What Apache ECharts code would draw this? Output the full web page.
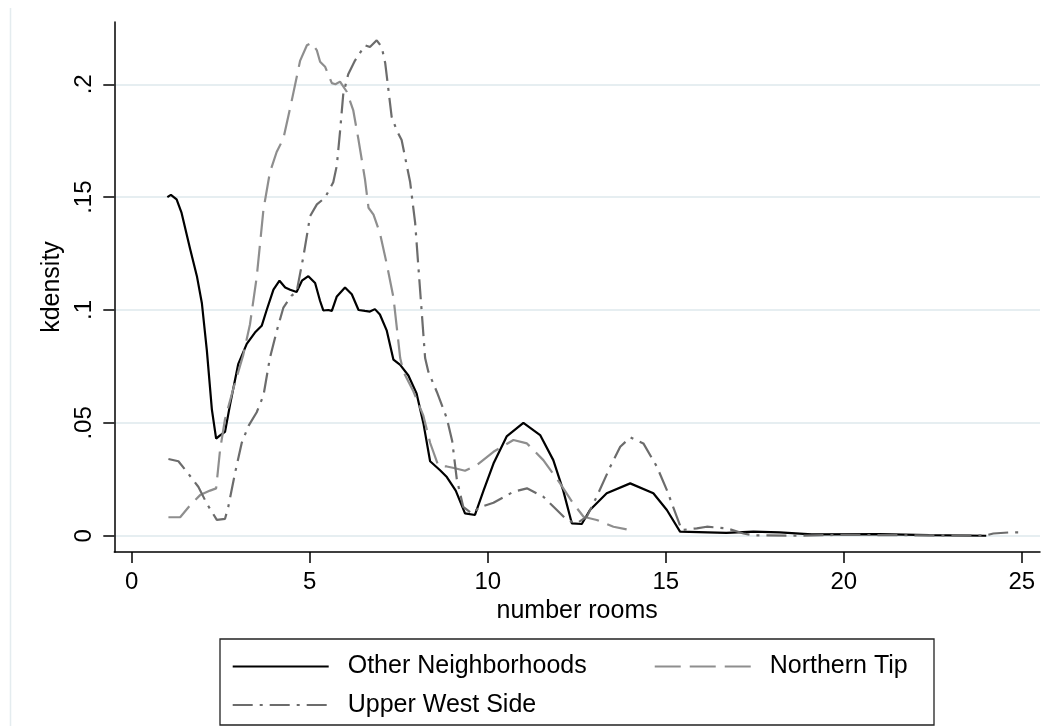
<!DOCTYPE html>
<html>
<head>
<meta charset="utf-8">
<script src="https://cdn.jsdelivr.net/npm/echarts@6/dist/echarts.min.js"></script>
<style>
html,body{margin:0;padding:0;background:#fff;}
#chart{width:1059px;height:726px;}
</style>
</head>
<body>
<div id="chart"></div>
<script>
// ---- data ----
const seriesNames = ['Other Neighborhoods', 'Northern Tip', 'Upper West Side'];
const xTicks = [0, 5, 10, 15, 20, 25];
const yTicks = [0, 0.05, 0.1, 0.15, 0.2];

const otherNeighborhoods = [
  [1.00,0.150],[1.10,0.151],[1.26,0.149],[1.40,0.143],[1.64,0.127],[1.83,0.115],[1.97,0.103],
  [2.11,0.082],[2.25,0.056],[2.37,0.043],[2.48,0.0445],[2.62,0.046],[2.76,0.058],[2.99,0.076],
  [3.23,0.085],[3.46,0.090],[3.65,0.093],[3.79,0.100],[3.98,0.109],[4.15,0.113],[4.31,0.110],
  [4.45,0.109],[4.63,0.108],[4.78,0.113],[4.96,0.115],[5.15,0.112],[5.29,0.104],[5.38,0.0998],
  [5.52,0.100],[5.62,0.0996],[5.76,0.106],[5.99,0.110],[6.18,0.107],[6.37,0.100],[6.55,0.0996],
  [6.69,0.0993],[6.83,0.1004],[6.97,0.098],[7.16,0.091],[7.35,0.078],[7.54,0.0757],[7.77,0.071],
  [8.00,0.063],[8.19,0.050],[8.38,0.033],[8.66,0.029],[8.85,0.026],[9.10,0.020],[9.36,0.0099],
  [9.64,0.0092],[9.88,0.020],[10.16,0.032],[10.53,0.044],[11.00,0.050],[11.47,0.0446],
  [11.84,0.0335],[12.12,0.020],[12.36,0.0055],[12.64,0.0052],[12.87,0.0114],[13.34,0.0188],
  [14.00,0.0232],[14.65,0.0188],[15.03,0.0114],[15.40,0.0018],[16.70,0.0013],[17.46,0.0018],
  [18.20,0.0015],[19.10,0.0006],[21.00,0.0007],[22.40,0.0003],[24.00,0.0]
];

const northernTip = [
  [1.03,0.0082],[1.36,0.0082],[1.64,0.0135],[1.92,0.018],[2.20,0.020],[2.37,0.021],[2.48,0.038],
  [2.62,0.0517],[2.85,0.065],[3.13,0.080],[3.32,0.0936],[3.51,0.1146],[3.70,0.1446],[3.88,0.161],
  [4.07,0.170],[4.26,0.176],[4.49,0.1925],[4.73,0.2105],[4.92,0.2173],[5.05,0.2184],[5.20,0.215],
  [5.29,0.210],[5.43,0.2078],[5.62,0.2005],[5.72,0.2000],[5.85,0.2012],[6.04,0.1967],[6.22,0.1886],
  [6.37,0.1753],[6.55,0.158],[6.65,0.1453],[6.79,0.1423],[6.97,0.1341],[7.16,0.1206],[7.35,0.1056],
  [7.54,0.0787],[7.63,0.0727],[7.91,0.064],[8.19,0.0532],[8.38,0.0412],[8.61,0.031],[8.85,0.0307],
  [9.05,0.030],[9.36,0.0288],[9.69,0.0313],[10.16,0.0372],[10.72,0.0424],[11.10,0.0409],
  [11.56,0.0335],[12.03,0.0232],[12.40,0.0143],[12.69,0.0084],[13.06,0.007],[13.53,0.004],
  [13.90,0.0028]
];

const upperWestSide = [
  [1.03,0.034],[1.31,0.033],[1.54,0.0285],[1.87,0.0217],[2.11,0.0142],[2.39,0.007],[2.62,0.0075],
  [2.71,0.0127],[2.90,0.0277],[3.09,0.0412],[3.28,0.0487],[3.51,0.0547],[3.70,0.0622],[3.88,0.0787],
  [4.07,0.0906],[4.26,0.1011],[4.49,0.1064],[4.63,0.108],[4.82,0.1236],[5.01,0.1416],[5.20,0.1468],
  [5.43,0.1498],[5.66,0.1566],[5.76,0.164],[5.85,0.179],[5.94,0.1955],[6.08,0.2045],[6.27,0.2105],
  [6.55,0.2173],[6.69,0.2165],[6.88,0.2195],[7.02,0.2165],[7.12,0.2093],[7.21,0.1975],[7.30,0.1856],
  [7.44,0.1797],[7.58,0.1753],[7.82,0.1566],[7.96,0.1386],[8.10,0.1086],[8.24,0.0787],[8.33,0.0727],
  [8.57,0.0637],[8.85,0.052],[9.00,0.042],[9.13,0.025],[9.31,0.0128],[9.55,0.0099],[9.78,0.0126],
  [10.16,0.0146],[10.72,0.0195],[11.10,0.021],[11.56,0.0173],[11.94,0.0114],[12.22,0.007],
  [12.50,0.0055],[12.78,0.0084],[13.06,0.0173],[13.44,0.0306],[13.72,0.0394],[14.00,0.0436],
  [14.37,0.0409],[14.75,0.0306],[15.03,0.0202],[15.31,0.0084],[15.45,0.0025],[15.87,0.0033],
  [16.15,0.004],[16.71,0.0033],[17.18,0.001],[17.46,0.0002],[18.50,0.0],[20.00,0.0004],
  [22.00,0.0002],[24.00,0.0002],[24.20,0.001],[24.67,0.0015],[25.04,0.0015]
];

// ---- chart ----
const FONT = "'Liberation Sans', Arial, Helvetica, sans-serif";
const chart = echarts.init(document.getElementById('chart'), null, {renderer: 'canvas'});

function yFmt(v) {
  if (Math.abs(v) < 1e-12) return '0';
  return String(+v.toFixed(4)).replace(/^0\./, '.');
}

const legendCommon = {
  orient: 'horizontal',
  padding: 0,
  itemWidth: 96,
  itemHeight: 25,
  itemGap: 67,
  selectedMode: false,
  itemStyle: {opacity: 0},
  textStyle: {fontFamily: FONT, fontSize: 25, color: '#000', padding: [0, 0, 0, 14], lineHeight: 25}
};

chart.setOption({
  animation: false,
  backgroundColor: '#fff',
  textStyle: {fontFamily: FONT},
  grid: {left: 114.3, right: 19, top: 22, bottom: 174, containLabel: false},
  legend: [
    Object.assign({}, legendCommon, {data: [seriesNames[0], seriesNames[1]], left: 231.7, top: 654}),
    Object.assign({}, legendCommon, {data: [seriesNames[2]], left: 231.7, top: 692.5})
  ],
  graphic: [
    {type: 'rect', shape: {x: 220, y: 639, width: 714, height: 86}, style: {fill: 'none', stroke: '#222', lineWidth: 1.3}, z: 1},
    {type: 'line', shape: {x1: 10.5, y1: 8, x2: 10.5, y2: 726}, style: {stroke: '#e4ecef', lineWidth: 1.5}, z: 0}
  ],
  xAxis: {
    type: 'value',
    min: -0.49,
    max: 25.51,
    name: 'number rooms',
    nameLocation: 'middle',
    nameGap: 47,
    nameTextStyle: {fontFamily: FONT, fontSize: 25, color: '#000'},
    axisLine: {show: true, onZero: false, lineStyle: {color: '#000', width: 1.5}},
    axisTick: {show: true, length: 11, customValues: xTicks, lineStyle: {color: '#000', width: 1.5}},
    axisLabel: {customValues: xTicks, margin: 18, fontFamily: FONT, fontSize: 24, color: '#000'},
    splitLine: {show: false}
  },
  yAxis: {
    type: 'value',
    min: -0.0072,
    max: 0.2276,
    name: 'kdensity',
    nameLocation: 'middle',
    nameGap: 47,
    nameRotate: 90,
    nameTextStyle: {fontFamily: FONT, fontSize: 25, color: '#000'},
    axisLine: {show: true, onZero: false, lineStyle: {color: '#000', width: 1.5}},
    axisTick: {show: true, length: 11, customValues: yTicks, lineStyle: {color: '#000', width: 1.5}},
    axisLabel: {customValues: yTicks, rotate: 90, margin: 18, fontFamily: FONT, fontSize: 24, color: '#000', formatter: yFmt},
    splitLine: {show: true, lineStyle: {color: '#e6eef1', width: 2}}
  },
  series: [
    {
      name: seriesNames[0], type: 'line', data: otherNeighborhoods, symbol: 'none', smooth: false,
      lineStyle: {color: '#000', width: 2.2, type: 'solid'}, itemStyle: {color: '#000'}, z: 3
    },
    {
      name: seriesNames[1], type: 'line', data: northernTip, symbol: 'none', smooth: false,
      lineStyle: {color: '#8e8e8e', width: 2.2, type: [26, 9]}, itemStyle: {color: '#8e8e8e'}, z: 3
    },
    {
      name: seriesNames[2], type: 'line', data: upperWestSide, symbol: 'none', smooth: false,
      lineStyle: {color: '#6c6c6c', width: 2.2, type: [20, 7, 3, 7]}, itemStyle: {color: '#6c6c6c'}, z: 3
    }
  ]
});
</script>
</body>
</html>
